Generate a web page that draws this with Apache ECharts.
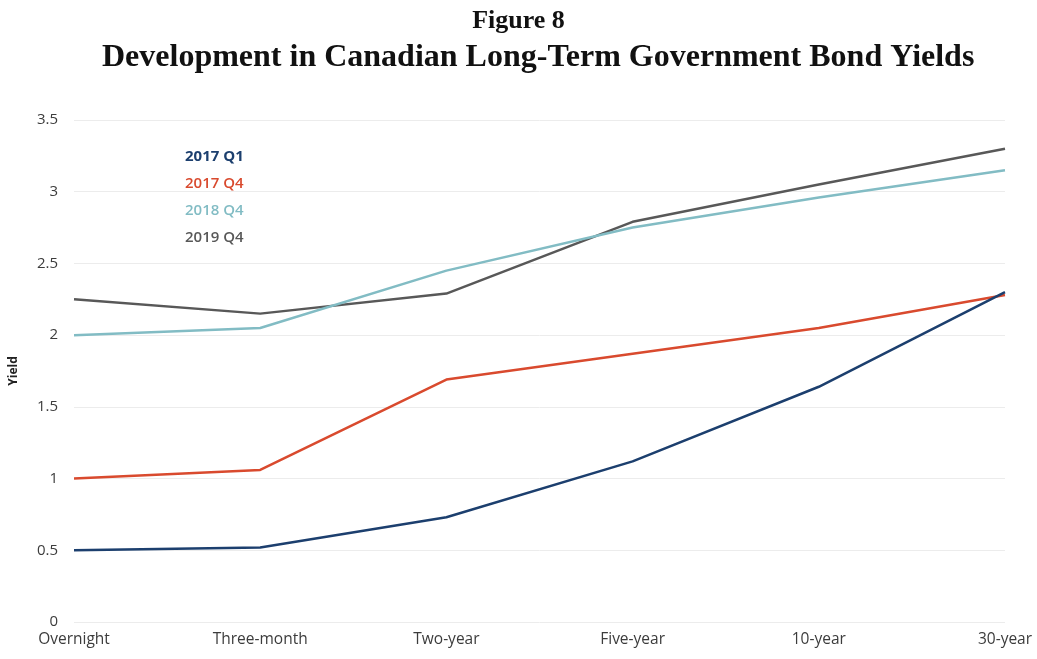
<!DOCTYPE html>
<html>
<head>
<meta charset="utf-8">
<script src="https://cdn.jsdelivr.net/npm/echarts@6/dist/echarts.min.js"></script>
<style>
  html, body { margin: 0; padding: 0; background: #ffffff; }
  #chart { width: 1037px; height: 659px; }
</style>
</head>
<body>
<div id="chart"></div>
<script>
// Maturities along the yield curve
const maturities = ['Overnight', 'Three-month', 'Two-year', 'Five-year', '10-year', '30-year'];

// Yields (%) per quarter
const yields2017Q1 = [0.50, 0.52, 0.73, 1.12, 1.64, 2.30];
const yields2017Q4 = [1.00, 1.06, 1.69, 1.87, 2.05, 2.28];
const yields2018Q4 = [2.00, 2.05, 2.45, 2.75, 2.96, 3.15];
const yields2019Q4 = [2.25, 2.15, 2.29, 2.79, 3.05, 3.30];

const seriesNames = ['2017 Q1', '2017 Q4', '2018 Q4', '2019 Q4'];
const seriesColors = ['#1c3f6e', '#d94a2e', '#82bcc4', '#585858'];
const seriesData = [yields2017Q1, yields2017Q4, yields2018Q4, yields2019Q4];

const labelFont = 'Open Sans';

const chart = echarts.init(document.getElementById('chart'));

chart.setOption({
  animation: false,
  backgroundColor: '#ffffff',
  title: [
    {
      text: 'Figure 8',
      left: 'center',
      top: 3,
      textStyle: { fontFamily: 'Liberation Serif', fontWeight: 'bold', fontSize: 26, color: '#111111' }
    },
    {
      text: 'Development in Canadian Long-Term Government Bond Yields',
      left: 97,
      top: 37,
      textStyle: { fontFamily: 'Liberation Serif', fontWeight: 'bold', fontSize: 32, color: '#111111' }
    }
  ],
  legend: {
    orient: 'vertical',
    left: 175,
    top: 143,
    itemGap: 10,
    itemWidth: 0,
    itemHeight: 0,
    icon: 'rect',
    selectedMode: false,
    data: seriesNames.map((n, i) => ({
      name: n,
      textStyle: {
        color: seriesColors[i],
        fontFamily: labelFont,
        fontWeight: i === 0 ? 'bold' : 600,
        fontSize: 15,
        lineHeight: 17
      }
    }))
  },
  grid: { left: 73, right: 32, top: 120, bottom: 37 },
  xAxis: {
    type: 'category',
    data: maturities,
    boundaryGap: false,
    axisLine: { show: false },
    axisTick: { show: false },
    axisLabel: { color: '#3c3c3c', fontFamily: labelFont, fontSize: 15.5, margin: 10 }
  },
  yAxis: {
    type: 'value',
    min: 0,
    max: 3.5,
    interval: 0.5,
    name: 'Yield',
    nameLocation: 'middle',
    nameGap: 54,
    nameTextStyle: { color: '#222222', fontFamily: labelFont, fontWeight: 'bold', fontSize: 12 },
    axisLine: { show: false },
    axisTick: { show: false },
    axisLabel: { color: '#3c3c3c', fontFamily: labelFont, fontSize: 15, margin: 16 },
    splitLine: { lineStyle: { color: '#ececec', width: 1 } }
  },
  series: seriesNames.map((n, i) => ({
    name: n,
    type: 'line',
    data: seriesData[i],
    showSymbol: false,
    symbol: 'none',
    color: seriesColors[i],
    lineStyle: { width: 2.5, color: seriesColors[i] },
    z: 10 - i
  }))
});
</script>
</body>
</html>
